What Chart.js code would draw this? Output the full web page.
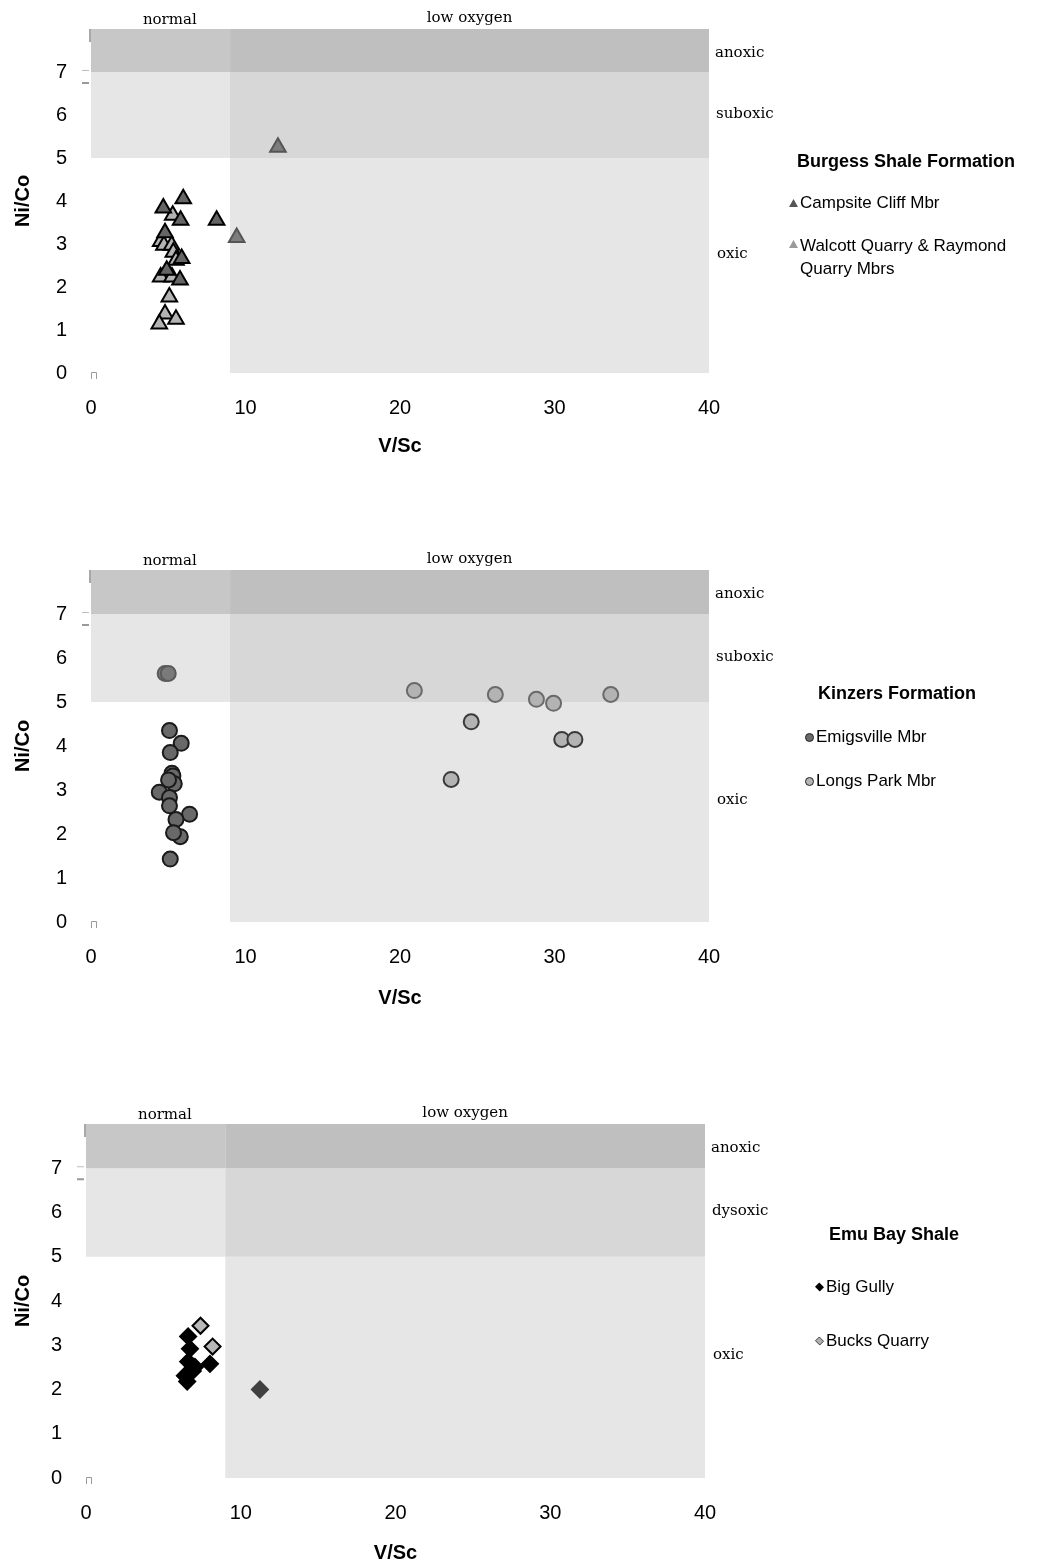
<!DOCTYPE html>
<html>
<head>
<meta charset="utf-8">
<script src="https://cdn.jsdelivr.net/npm/chart.js@4.4.1/dist/chart.umd.min.js"></script>
<style>
  body { margin: 0; background: #fff; font-family: "Liberation Sans", Arial, sans-serif; }
  #pagina { position: relative; width: 1064px; height: 1566px; overflow: hidden; }
  canvas { position: absolute; left: 0; }
  .leg { position: absolute; color: #000; font-size: 17px; line-height: 20px; white-space: nowrap; }
  .leg.titulo { font-weight: bold; font-size: 18px; }
  .leg .mk { position: absolute; left: -11px; top: 6px; width: 9px; height: 8px; }
  .tri { clip-path: polygon(50% 0, 100% 100%, 0 100%); }
  .circ { border-radius: 50%; box-sizing: border-box; border: 1.5px solid #222; width: 9px !important; height: 9px !important; }
  .losango { transform: rotate(45deg) scale(0.75); box-sizing: border-box; }
</style>
</head>
<body>
<div id="pagina">
  <canvas id="burgess" width="1064" height="471" style="top:0px"></canvas>
  <canvas id="kinzers" width="1064" height="482" style="top:541px"></canvas>
  <canvas id="emuBay" width="1064" height="482" style="top:1096px"></canvas>

  <div class="leg titulo" style="left:797px;top:151px">Burgess Shale Formation</div>
  <div class="leg" style="left:800px;top:193px"><span class="mk tri" style="background:#555"></span>Campsite Cliff Mbr</div>
  <div class="leg" style="left:800px;top:234px;line-height:23px"><span class="mk tri" style="background:#9a9a9a"></span>Walcott Quarry &amp; Raymond<br>Quarry Mbrs</div>

  <div class="leg titulo" style="left:818px;top:683px">Kinzers Formation</div>
  <div class="leg" style="left:816px;top:727px"><span class="mk circ" style="background:#6a6a6a"></span>Emigsville Mbr</div>
  <div class="leg" style="left:816px;top:771px"><span class="mk circ" style="background:#b4b4b4"></span>Longs Park Mbr</div>

  <div class="leg titulo" style="left:829px;top:1224px">Emu Bay Shale</div>
  <div class="leg" style="left:826px;top:1277px"><span class="mk losango" style="background:#000"></span>Big Gully</div>
  <div class="leg" style="left:826px;top:1331px"><span class="mk losango" style="background:#b0b0b0;border:1.5px solid #333"></span>Bucks Quarry</div>
</div>

<script>
// eixos
const ticksX = [0, 10, 20, 30, 40];
const ticksY = [0, 1, 2, 3, 4, 5, 6, 7];
const maxX = 40;
const maxY = 8;

// limites dos campos: V/Sc normal x baixo oxigênio, Ni/Co oxic/suboxic/anoxic
const limiteVSc = 9;
const limitesNiCo = [5, 7, 8];

// Burgess Shale [V/Sc, Ni/Co]
const campsiteCliff = [[5.97, 4.05], [4.68, 3.84], [5.80, 3.55], [8.13, 3.55], [4.79, 3.26],
  [5.87, 2.66], [4.90, 2.39], [5.76, 2.16]];
const campsiteCliffOutros = [[12.1, 5.25], [9.43, 3.15]];
const walcottRaymond = [[5.29, 3.67], [4.51, 3.06], [4.72, 2.97], [5.22, 2.97], [5.33, 2.81],
  [5.50, 2.62], [4.51, 2.23], [5.24, 2.23], [5.07, 1.77], [4.79, 1.37], [5.50, 1.25], [4.42, 1.14]];

// Kinzers
const emigsville = [[5.08, 4.35], [5.84, 4.06], [5.13, 3.85], [5.24, 3.38], [5.30, 3.32], [5.39, 3.14],
  [5.02, 3.23], [4.42, 2.95], [5.08, 2.83], [5.08, 2.64], [6.38, 2.45], [5.50, 2.33], [5.78, 1.94],
  [5.34, 2.03], [5.13, 1.43]];
const emigsvilleOutros = [[4.80, 5.65], [5.00, 5.65]];
const longsPark = [[20.93, 5.26], [26.17, 5.17], [28.83, 5.06], [29.94, 4.97], [33.64, 5.17],
  [24.61, 4.55], [30.47, 4.15], [31.32, 4.15], [23.31, 3.24]];

// Emu Bay
const bigGully = [[6.60, 3.20], [6.72, 2.92], [6.60, 2.63], [7.04, 2.51], [8.01, 2.58],
  [6.39, 2.31], [6.54, 2.18], [6.90, 2.42]];
const bigGullyOutros = [[11.24, 2.0]];
const bucksQuarry = [[7.40, 3.44], [8.18, 2.97]];

function pontos(lista) {
  return lista.map((p) => ({ x: p[0], y: p[1] }));
}

// faixas de fundo em unidades dos eixos
function caixas() {
  return [
    { x0: 0, x1: limiteVSc, y0: limitesNiCo[0], y1: limitesNiCo[1], cor: "#e6e6e6" },
    { x0: 0, x1: limiteVSc, y0: limitesNiCo[1], y1: limitesNiCo[2], cor: "#c7c7c7" },
    { x0: limiteVSc, x1: maxX, y0: 0, y1: limitesNiCo[0], cor: "#e6e6e6" },
    { x0: limiteVSc, x1: maxX, y0: limitesNiCo[0], y1: limitesNiCo[1], cor: "#d7d7d7" },
    { x0: limiteVSc, x1: maxX, y0: limitesNiCo[1], y1: limitesNiCo[2], cor: "#bfbfbf" },
  ];
}

const camposPlugin = {
  id: "campos",
  beforeDatasetsDraw(chart, args, opts) {
    const { ctx, chartArea, scales } = chart;
    const x = scales.x;
    const y = scales.y;
    ctx.save();
    caixas().forEach((c) => {
      const l = x.getPixelForValue(c.x0);
      const r = x.getPixelForValue(c.x1);
      const t = y.getPixelForValue(c.y1);
      const b = y.getPixelForValue(c.y0);
      ctx.fillStyle = c.cor;
      ctx.fillRect(l, t, r - l, b - t);
    });

    // restos de eixo do gráfico original (traços cinza no canto)
    const l = chartArea.left;
    const y7 = y.getPixelForValue(7);
    ctx.fillStyle = "#a8a8a8";
    ctx.fillRect(l - 2, chartArea.top, 2, 13);
    ctx.fillStyle = "#bdbdbd";
    ctx.fillRect(l - 9, y7 - 2, 7, 1);
    ctx.fillStyle = "#9a9a9a";
    ctx.fillRect(l - 9, y7 + 10, 7, 2);
    ctx.strokeStyle = "#9a9a9a";
    ctx.lineWidth = 1;
    ctx.beginPath();
    const y0 = y.getPixelForValue(0);
    ctx.moveTo(l + 0.5, y0 + 6);
    ctx.lineTo(l + 0.5, y0 - 0.5);
    ctx.lineTo(l + 5.5, y0 - 0.5);
    ctx.lineTo(l + 5.5, y0 + 6);
    ctx.stroke();

    ctx.font = '15px "DejaVu Serif", "Liberation Serif", serif';
    ctx.fillStyle = "#000";
    ctx.textBaseline = "middle";
    ctx.textAlign = "center";
    ctx.fillText("normal", x.getPixelForValue(5.1), chartArea.top - 9);
    ctx.fillText("low oxygen", x.getPixelForValue((limiteVSc + maxX) / 2), chartArea.top - 11);

    ctx.textAlign = "left";
    const xr = chartArea.right + opts.recuo;
    ctx.fillText("anoxic", xr, y.getPixelForValue(7.45));
    ctx.fillText(opts.meio, xr + 1, y.getPixelForValue(6.03));
    ctx.fillText("oxic", xr + 2, y.getPixelForValue(2.77));
    ctx.restore();
  },
};

function criarGrafico(id, conjuntos, caixa, meio) {
  const canvas = document.querySelector("#" + id);
  return new Chart(canvas, {
    type: "scatter",
    data: { datasets: conjuntos },
    plugins: [camposPlugin],
    options: {
      responsive: false,
      animation: false,
      events: [],
      layout: { padding: { top: caixa.topo, right: 1064 - caixa.direita, left: 0, bottom: 0 } },
      plugins: {
        legend: { display: false },
        tooltip: { enabled: false },
        campos: { meio: meio, recuo: 6 },
      },
      scales: {
        x: {
          type: "linear",
          min: 0,
          max: maxX,
          afterBuildTicks: (s) => { s.ticks = ticksX.map((v) => ({ value: v })); },
          afterFit: (s) => {
            s.height = canvas.height - caixa.base;
            s.paddingLeft = 0;
            s.paddingRight = 0;
          },
          grid: { display: false, drawTicks: false },
          border: { display: false },
          ticks: { color: "#000", padding: 23, font: { size: 20, family: "Liberation Sans" } },
          title: {
            display: true,
            text: "V/Sc",
            color: "#000",
            padding: { top: 0, bottom: 13 },
            font: { size: 20, weight: "bold", family: "Liberation Sans" },
          },
        },
        y: {
          type: "linear",
          min: 0,
          max: maxY,
          afterBuildTicks: (s) => { s.ticks = ticksY.map((v) => ({ value: v })); },
          afterFit: (s) => {
            s.width = caixa.esquerda;
            s.paddingTop = 0;
            s.paddingBottom = 0;
          },
          grid: { display: false, drawTicks: false },
          border: { display: false },
          ticks: { color: "#000", padding: 24, font: { size: 20, family: "Liberation Sans" } },
          title: {
            display: true,
            text: "Ni/Co",
            color: "#000",
            padding: { top: 11, bottom: 0 },
            font: { size: 20, weight: "bold", family: "Liberation Sans" },
          },
        },
      },
    },
  });
}

criarGrafico("burgess", [
  { label: "Campsite Cliff Mbr", data: pontos(campsiteCliff), pointStyle: "triangle", pointRadius: 9,
    backgroundColor: "#656565", borderColor: "#000", borderWidth: 2 },
  { label: "Campsite Cliff Mbr", data: pontos(campsiteCliffOutros), pointStyle: "triangle", pointRadius: 9,
    backgroundColor: "#7d7d7d", borderColor: "#555", borderWidth: 2 },
  { label: "Walcott Quarry & Raymond Quarry Mbrs", data: pontos(walcottRaymond), pointStyle: "triangle",
    pointRadius: 9, backgroundColor: "#b3b3b3", borderColor: "#000", borderWidth: 2 },
], { topo: 29, base: 373, esquerda: 91, direita: 709 }, "suboxic");

criarGrafico("kinzers", [
  { label: "Emigsville Mbr", data: pontos(emigsville), pointStyle: "circle", pointRadius: 7.5,
    backgroundColor: "#696969", borderColor: "#1a1a1a", borderWidth: 2 },
  { label: "Emigsville Mbr", data: pontos(emigsvilleOutros), pointStyle: "circle", pointRadius: 7.5,
    backgroundColor: "#7a7a7a", borderColor: "#5a5a5a", borderWidth: 2 },
  { label: "Longs Park Mbr", data: pontos(longsPark), pointStyle: "circle", pointRadius: 7.5,
    backgroundColor: "#b3b3b3",
    borderColor: (ctx) => (ctx.raw && ctx.raw.y > 4.9 ? "#6a6a6a" : "#3a3a3a"), borderWidth: 2 },
], { topo: 29, base: 381, esquerda: 91, direita: 709 }, "suboxic");

criarGrafico("emuBay", [
  { label: "Big Gully", data: pontos(bigGully), pointStyle: "rectRot", pointRadius: 8,
    backgroundColor: "#000", borderColor: "#000", borderWidth: 2 },
  { label: "Big Gully", data: pontos(bigGullyOutros), pointStyle: "rectRot", pointRadius: 8,
    backgroundColor: "#404040", borderColor: "#404040", borderWidth: 2 },
  { label: "Bucks Quarry", data: pontos(bucksQuarry), pointStyle: "rectRot", pointRadius: 8,
    backgroundColor: "#b8b8b8", borderColor: "#000", borderWidth: 2 },
], { topo: 28, base: 382, esquerda: 86, direita: 705 }, "dysoxic");
</script>
</body>
</html>
